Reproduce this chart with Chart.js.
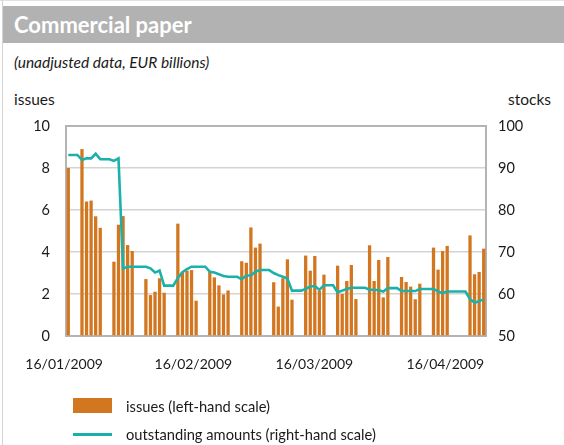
<!DOCTYPE html>
<html>
<head>
<meta charset="utf-8">
<title>Commercial paper</title>
<script src="https://cdn.jsdelivr.net/npm/chart.js@4/dist/chart.umd.min.js"></script>
<style>
  html, body { margin: 0; padding: 0; background: #fff; }
  #wrap { position: relative; width: 564px; height: 445px; overflow: hidden;
          font-family: Lato, "Open Sans", "DejaVu Sans", sans-serif; color: #1a1a1a; }
  #rule-top { position: absolute; left: 0; top: 0; width: 564px; height: 1px; background: #e2e2e2; }
  #rule-left { position: absolute; left: 2px; top: 0; width: 1px; height: 445px; background: #d4d4d4; }
  #band { position: absolute; left: 3px; top: 6px; width: 561px; height: 37px; background: #b2b2b2; }
  #title { position: absolute; left: 14px; top: 6px; line-height: 37px; font-size: 22px;
           font-weight: 700; color: #fff; white-space: nowrap; }
  #subtitle { position: absolute; left: 14px; top: 53px; line-height: 18px; font-size: 15.5px;
              font-style: italic; white-space: nowrap; }
  .axis-title { position: absolute; top: 90px; line-height: 18px; font-size: 15.5px; white-space: nowrap; }
  #chart { position: absolute; left: 0; top: 0; }
  #legend { position: absolute; left: 73px; top: 396px; }
  .item { position: relative; height: 28px; }
  .swatch { position: absolute; left: 0; width: 39px; }
  .label { position: absolute; left: 53px; top: 0; line-height: 20px; font-size: 14.7px; white-space: nowrap; }
</style>
</head>
<body>
<div id="wrap">
  <div id="rule-top"></div>
  <div id="rule-left"></div>
  <div id="band"></div>
  <div id="title">Commercial paper</div>
  <div id="subtitle">(unadjusted data, EUR billions)</div>
  <div class="axis-title" style="left:14px">issues</div>
  <div class="axis-title" style="left:508px">stocks</div>
  <canvas id="chart" width="564" height="445"></canvas>
  <div id="legend"></div>
</div>
<script>
// Calendar days from 16/01/2009 to 17/04/2009 (day 0 = 16/01/2009).
const startDate = new Date(2009, 0, 16);
const dayCount = 92;

// Daily issues, EUR billions (null = weekend or holiday, no issuance).
const issues = [
  8.0, null, null,
  8.9, 6.4, 6.45, 5.7, 5.15, null, null,
  3.54, 5.3, 5.71, 4.33, 4.05, null, null,
  2.71, 1.95, 2.11, 2.75, 2.06, null, null,
  5.35, 3.03, 3.11, 3.14, 1.68, null, null,
  3.05, 2.79, 2.41, 1.98, 2.17, null, null,
  3.56, 3.49, 5.17, 4.21, 4.40, null, null,
  2.56, 1.40, 2.75, 3.65, 1.73, null, null,
  3.83, 3.11, 3.81, 2.16, 2.92, null, null,
  3.35, 2.0, 2.62, 3.38, 1.76, null, null,
  4.32, 2.62, 3.62, 1.84, 3.76, null, null,
  2.81, 2.57, 2.35, 1.75, 2.49, null, null,
  4.21, 3.16, 4.05, 4.29, null, null, null,
  null, 4.79, 2.94, 3.05, 4.16
];

// Outstanding amounts at end of day, EUR billions.
const outstanding = [
  93.1, 93.1, 93.1,
  91.9, 92.3, 92.3, 93.4, 92.1, 92.1, 92.1,
  91.7, 92.3, 66.1, 66.5, 66.5, 66.5, 66.5,
  66.5, 66.1, 65.1, 65.6, 62.0, 62.0, 62.0,
  63.8, 65.2, 65.9, 66.5, 66.5, 66.5, 66.5,
  65.3, 65.1, 64.7, 64.3, 64.1, 64.1, 64.1,
  63.5, 64.4, 64.4, 65.3, 65.7, 65.7, 65.7,
  65.0, 64.5, 64.1, 63.7, 60.8, 60.8, 60.8,
  61.2, 61.8, 61.9, 61.0, 62.1, 62.1, 62.1,
  60.4, 60.8, 61.2, 61.5, 61.5, 61.5, 61.5,
  61.0, 61.0, 60.9, 60.6, 61.4, 61.4, 61.4,
  60.7, 60.7, 60.7, 60.7, 61.2, 61.2, 61.2,
  61.2, 60.6, 60.2, 60.6, 60.6, 60.6, 60.6,
  60.6, 58.8, 57.9, 58.3, 58.7
];

// Date labels along the time axis and where they sit (in days from the start).
const tickLabels = ['16/01/2009', '16/02/2009', '16/03/2009', '16/04/2009'];
const tickDays = [-0.9, 27.4, 53.9, 82.6];

const seriesNames = ['issues (left-hand scale)', 'outstanding amounts (right-hand scale)'];

const ORANGE = '#d2761f';
const TEAL = '#1bb1ab';
const FONT = 'Lato, "Open Sans", "DejaVu Sans", sans-serif';
const TEXT = '#1a1a1a';

const issuePoints = [];
issues.forEach((v, d) => { if (v !== null) issuePoints.push({ x: d, y: v }); });
const stockPoints = outstanding.map((v, d) => ({ x: d, y: v }));

new Chart(document.getElementById('chart'), {
  data: {
    datasets: [
      {
        type: 'line',
        label: seriesNames[1],
        data: stockPoints,
        yAxisID: 'y2',
        borderColor: TEAL,
        borderWidth: 2.6,
        pointRadius: 0,
        tension: 0,
        fill: false,
        order: 0
      },
      {
        type: 'bar',
        label: seriesNames[0],
        data: issuePoints,
        yAxisID: 'y',
        backgroundColor: ORANGE,
        borderWidth: 0,
        categoryPercentage: 0.8,
        barPercentage: 0.9,
        order: 1
      }
    ]
  },
  options: {
    responsive: false,
    animation: false,
    devicePixelRatio: 1,
    layout: { padding: { top: 126, left: 0, right: 0, bottom: 0 } },
    plugins: { legend: { display: false }, tooltip: { enabled: false } },
    scales: {
      x: {
        type: 'linear',
        min: -0.5,
        max: dayCount - 0.5,
        offset: false,
        grid: { display: false, drawTicks: false },
        border: { display: true, color: '#b4b4b4', width: 2 },
        afterBuildTicks: (scale) => { scale.ticks = tickDays.map(v => ({ value: v })); },
        ticks: {
          autoSkip: false, maxRotation: 0, padding: 20,
          color: TEXT, font: { family: FONT, size: 14 },
          callback: (value, index) => tickLabels[index]
        },
        afterFit: (scale) => { scale.height = 109; }
      },
      y: {
        position: 'left',
        min: 0, max: 10,
        ticks: { stepSize: 2, padding: 16, color: TEXT, font: { family: FONT, size: 14.5 } },
        grid: {
          drawTicks: false,
          color: (ctx) => ctx.tick && ctx.tick.value === 10 ? '#b4b4b4' : '#d3d3d3',
          lineWidth: (ctx) => ctx.tick && ctx.tick.value === 10 ? 2 : 1.5
        },
        border: { display: true, color: '#b4b4b4', width: 2 },
        afterFit: (scale) => { scale.width = 66; }
      },
      y2: {
        position: 'right',
        min: 50, max: 100,
        ticks: { stepSize: 10, padding: 12, color: TEXT, font: { family: FONT, size: 14.5 } },
        grid: { display: false, drawTicks: false },
        border: { display: true, color: '#b4b4b4', width: 2 },
        afterFit: (scale) => { scale.width = 78; }
      }
    }
  }
});

// Legend: bar swatch and line swatch with the series names.
const legend = document.getElementById('legend');
legend.innerHTML =
  '<div class="item"><div class="swatch" style="top:2px;height:15px;background:' + ORANGE + '"></div>' +
  '<div class="label">' + seriesNames[0] + '</div></div>' +
  '<div class="item"><div class="swatch" style="top:9px;height:3px;background:' + TEAL + '"></div>' +
  '<div class="label" style="top:0">' + seriesNames[1] + '</div></div>';
</script>
</body>
</html>
